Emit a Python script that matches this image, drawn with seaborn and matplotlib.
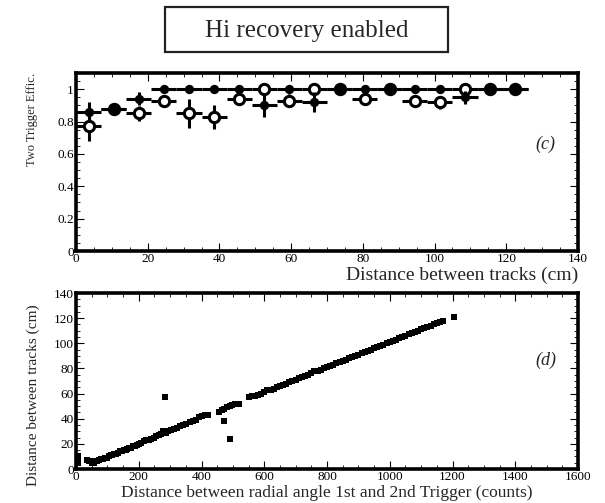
import matplotlib
matplotlib.use("Agg")
import matplotlib.pyplot as plt
from matplotlib.ticker import MultipleLocator
from matplotlib.patches import Rectangle
import pandas as pd
import seaborn as sns

# ---- panel (c): two-trigger efficiency per 7 cm bin of track separation ----
bin_centers = [3.5, 10.5, 17.5, 24.5, 31.5, 38.5, 45.5, 52.5, 59.5,
               66.5, 73.5, 80.5, 87.5, 94.5, 101.5, 108.5, 115.5, 122.5]
bin_halfwidth = 3.5
eff_filled = [0.86, 0.88, 0.94, 1.00, 1.00, 1.00, 1.00, 0.90, 1.00,
              0.92, 1.00, 1.00, 1.00, 1.00, 1.00, 0.95, 1.00, 1.00]
err_filled = [0.06, 0.03, 0.04, 0.00, 0.00, 0.00, 0.00, 0.07, 0.00,
              0.06, 0.00, 0.00, 0.00, 0.00, 0.00, 0.04, 0.00, 0.00]
eff_open = [0.77, 0.88, 0.85, 0.93, 0.85, 0.83, 0.94, 1.00, 0.93,
            1.00, 1.00, 0.94, 1.00, 0.93, 0.92, 1.00, 1.00, 1.00]
err_open = [0.09, 0.03, 0.045, 0.03, 0.09, 0.075, 0.03, 0.00, 0.04,
            0.00, 0.00, 0.03, 0.00, 0.03, 0.04, 0.00, 0.00, 0.00]

# ---- panel (d): track separation vs. radial-angle distance ----
angle_counts = [6, 6, 6,
                34, 40, 46, 52, 58, 62, 68, 74, 80, 86, 92, 98, 104, 110, 116, 122,
                128, 134, 140, 146, 152, 158, 164, 170, 176, 182, 188, 194, 200,
                208, 216, 224, 232, 240, 248, 256, 264, 272, 278, 286, 294, 302,
                312, 322, 332, 342, 352, 362, 372, 382, 392, 402, 412, 420,
                456, 464, 472, 480, 490, 498, 508, 518,
                550, 560, 570, 580, 590, 600, 610, 620, 630, 640, 650, 660, 670,
                680, 690, 700, 710, 720, 730, 740, 750, 760, 770, 780, 790, 800,
                810, 820, 830, 840, 850, 860, 870, 880, 890, 900, 910, 920, 930,
                940, 950, 960, 970, 980, 990, 1000, 1010, 1020, 1030, 1040, 1050,
                1060, 1070, 1080, 1090, 1100, 1110, 1120, 1130, 1140, 1150, 1160,
                1170,
                283, 471, 492, 1206]
track_dist = [10, 8, 5,
              7, 6, 6, 5, 5, 6, 6, 7, 8, 8, 9, 9, 10, 11, 11, 12,
              12, 13, 14, 14, 15, 15, 16, 17, 17, 18, 18, 19, 20,
              21, 22, 23, 23, 24, 25, 26, 27, 28, 30, 29, 30, 31,
              32, 33, 34, 35, 36, 37, 38, 39, 41, 42, 43, 43,
              45, 47, 48, 49, 50, 51, 52, 52,
              57, 58, 58, 59, 60, 61, 63, 63, 64, 65, 66, 67, 68,
              69, 70, 71, 72, 73, 74, 75, 76, 78, 78, 79, 80, 81,
              82, 83, 84, 85, 86, 87, 88, 89, 90, 91, 92, 93, 94,
              95, 96, 97, 98, 99, 100, 101, 102, 103, 104, 105, 106,
              107, 108, 109, 110, 111, 112, 113, 114, 115, 116, 117,
              118,
              57, 38, 24, 121]

sns.set_theme(style="ticks")
plt.rcParams["font.family"] = ["Liberation Serif", "DejaVu Serif"]

fig = plt.figure(figsize=(6.05, 5.03), dpi=100)
ax1 = fig.add_axes([76 / 605, (503 - 251) / 503, 502 / 605, 178 / 503])
ax2 = fig.add_axes([76 / 605, (503 - 469) / 503, 502 / 605, 176 / 503])

eff = pd.DataFrame({"x": bin_centers, "filled": eff_filled, "efill": err_filled,
                    "open": eff_open, "eopen": err_open})

# open-circle series first, filled series on top
ax1.errorbar(eff["x"], eff["open"], xerr=bin_halfwidth, yerr=eff["eopen"],
             fmt="none", ecolor="black", elinewidth=2.2, capsize=0, zorder=2)
sns.scatterplot(data=eff, x="x", y="open", ax=ax1, marker="o", s=55,
                facecolor="white", edgecolor="black", linewidth=2.2, zorder=3)
ax1.errorbar(eff["x"], eff["filled"], xerr=bin_halfwidth, yerr=eff["efill"],
             fmt="none", ecolor="black", elinewidth=2.2, capsize=0, zorder=4)
sns.scatterplot(data=eff, x="x", y="filled", ax=ax1, marker="o", s=45,
                color="black", linewidth=0, zorder=5)

ax1.set_xlim(0, 140)
ax1.set_ylim(0, 1.1)
ax1.xaxis.set_major_locator(MultipleLocator(20))
ax1.xaxis.set_minor_locator(MultipleLocator(5))
ax1.yaxis.set_minor_locator(MultipleLocator(0.05))
ax1.set_yticks([0, 0.2, 0.4, 0.6, 0.8, 1.0])
ax1.set_yticklabels(["0", "0.2", "0.4", "0.6", "0.8", "1"])
ax1.set_xlabel("Distance between tracks (cm)", fontsize=14, loc="right")
ax1.xaxis.set_label_coords(1.0, -0.09)
ax1.set_ylabel("Two Trigger Effic.", fontsize=9, loc="top")
ax1.yaxis.set_label_coords(-0.075, 1.0)
ax1.text(0.935, 0.60, "(c)", transform=ax1.transAxes, fontsize=13,
         style="italic", ha="center", va="center")

pairs = pd.DataFrame({"counts": angle_counts, "dist": track_dist})
sns.scatterplot(data=pairs, x="counts", y="dist", ax=ax2, marker="s", s=15,
                color="black", linewidth=0)
ax2.set_xlim(0, 1600)
ax2.set_ylim(0, 140)
ax2.xaxis.set_major_locator(MultipleLocator(200))
ax2.xaxis.set_minor_locator(MultipleLocator(50))
ax2.yaxis.set_major_locator(MultipleLocator(20))
ax2.yaxis.set_minor_locator(MultipleLocator(5))
ax2.set_xlabel("Distance between radial angle 1st and 2nd Trigger (counts)",
               fontsize=12.5)
ax2.xaxis.set_label_coords(0.5, -0.09)
ax2.set_ylabel("Distance between tracks (cm)", fontsize=11)
ax2.yaxis.set_label_coords(-0.072, 0.42)
ax2.text(0.935, 0.62, "(d)", transform=ax2.transAxes, fontsize=13,
         style="italic", ha="center", va="center")

for ax in (ax1, ax2):
    for sp in ax.spines.values():
        sp.set_linewidth(2.6)
        sp.set_color("black")
    ax.tick_params(which="both", direction="in", top=True, right=True,
                   colors="black", labelsize=9.5, pad=1.5)
    ax.tick_params(which="major", length=6, width=0.8)
    ax.tick_params(which="minor", length=3, width=0.6)
    ax.grid(False)

# title box
fig.patches.append(Rectangle((165 / 605, (503 - 52) / 503), 283 / 605, 45 / 503,
                             transform=fig.transFigure, fill=False,
                             edgecolor="#222222", linewidth=1.6))
fig.text(205 / 605, (503 - 31) / 503, "Hi recovery enabled", fontsize=18,
         ha="left", va="center")

fig.savefig("out.png", dpi=100)
